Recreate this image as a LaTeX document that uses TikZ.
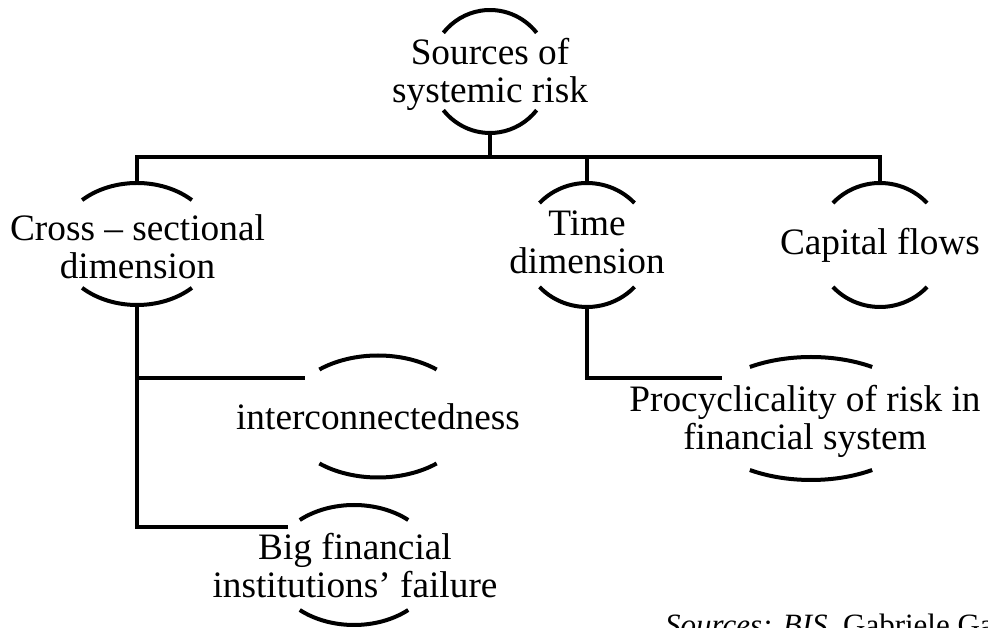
\documentclass[tikz,border=0pt]{standalone}
\usepackage{fontspec}
\setmainfont{Liberation Serif}
\tikzset{
  lbl/.style={font=\fontsize{37.3}{38}\selectfont, align=center, inner sep=0pt},
  conn/.style={line width=4pt, black},
  arcline/.style={line width=4pt, black},
  srcnote/.style={font=\fontsize{31}{34}\selectfont, inner sep=0pt, anchor=base west}
}
\newcommand\bracepair[4]{%
  \draw[arcline] (#1) ++(#4:#2 and #3) arc[start angle=#4, end angle=180-#4, x radius=#2, y radius=#3];
  \draw[arcline] (#1) ++(180+#4:#2 and #3) arc[start angle=180+#4, end angle=360-#4, x radius=#2, y radius=#3];
}
\begin{document}
\begin{tikzpicture}[x=1pt,y=1pt]
\useasboundingbox (0,0) rectangle (988,628);
% text nodes
\node[lbl] (top)   at (490,551.6) {\strut Sources of\\\strut systemic risk};
\node[lbl] (cross) at (137.5,375.6) {\strut Cross -- sectional\\\strut dimension};
\node[lbl] (time)  at (587,380.6) {\strut Time\\\strut dimension};
\node[lbl] (cap)   at (880,380.6) {\strut Capital flows};
\node[lbl] (inter) at (378,205.6) {\strut interconnectedness};
\node[lbl] (big)   at (355,56.6) {\strut Big financial\\\strut institutions’ failure};
\node[lbl] (proc)  at (805,204.6) {\strut Procyclicality of risk in\\\strut financial system};
% bracket centres
\coordinate (top-c)   at (490,556.5);
\coordinate (cross-c) at (137,384);
\coordinate (time-c)  at (587,383);
\coordinate (cap-c)   at (880,383);
\coordinate (inter-c) at (378,211.5);
\coordinate (big-c)   at (354,63);
\coordinate (proc-c)  at (811,209.5);
\bracepair{top-c}{60}{61.5}{39}
\bracepair{cross-c}{79}{61}{46}
\bracepair{time-c}{64.5}{62}{42.6}
\bracepair{cap-c}{64}{62}{42.6}
\bracepair{inter-c}{92}{61}{50.4}
\bracepair{big-c}{82}{60}{48.6}
\bracepair{proc-c}{112}{61.5}{56.9}
% connector anchors
\coordinate (top-b)   at (490,495);
\coordinate (cross-t) at (137,445);
\coordinate (cross-b) at (137,323);
\coordinate (time-t)  at (587,445);
\coordinate (time-b)  at (587,321);
\coordinate (cap-t)   at (880,445);
\coordinate (bar)     at (490,471);
\coordinate (inter-in) at (305,250);
\coordinate (big-in)   at (288,101);
\coordinate (proc-in)  at (722,250);
% connectors
\draw[conn] (top-b) -- (top-b |- bar);
\draw[conn] (cross-t) -- (cross-t |- bar) -| (cap-t);
\draw[conn] (time-t) -- (time-t |- bar);
\draw[conn] (cross-b) |- (big-in);
\draw[conn] (cross-b |- inter-in) -- (inter-in);
\draw[conn] (time-b) |- (proc-in);
% source note (cut by the page edge, as in the reference)
\node[srcnote] (src) at (665,-7.5) {\textit{Sources: BIS,} Gabriele Galati};
\end{tikzpicture}
\end{document}
